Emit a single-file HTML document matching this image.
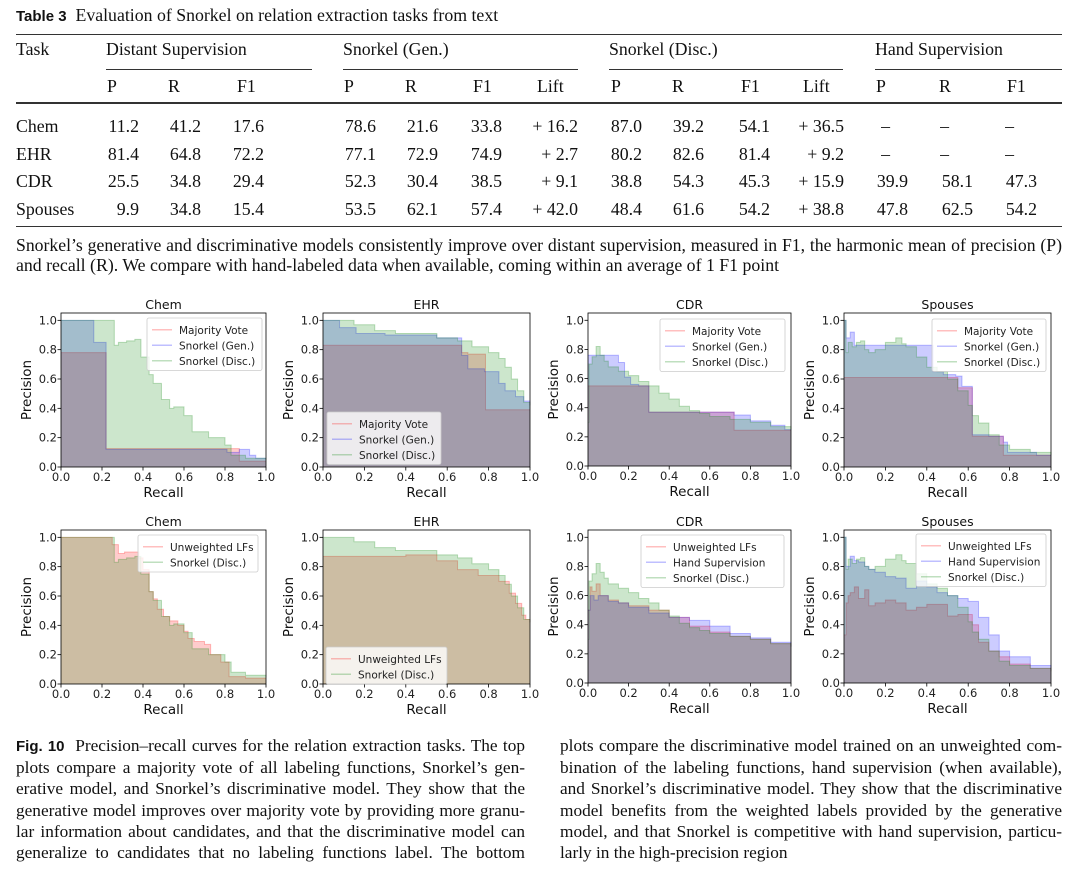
<!DOCTYPE html>
<html><head><meta charset="utf-8">
<style>
body{margin:0;background:#fff;}
#page{position:relative;width:1077px;height:870px;overflow:hidden;background:#fff;color:#111;}
.t{position:absolute;font-family:"Liberation Serif",serif;font-size:17.8px;line-height:20px;white-space:nowrap;}
.r{text-align:right;width:60px;}
.rule{position:absolute;background:#333;height:1px;}
.j{position:absolute;font-family:"Liberation Serif",serif;font-size:17.7px;line-height:20px;text-align:justify;text-align-last:justify;white-space:nowrap;}
.fc .j,.fc .t{font-size:17.3px;}
.sans{font-family:"Liberation Sans",sans-serif;font-weight:bold;font-size:15px;}
svg text{font-family:"DejaVu Sans","Liberation Sans",sans-serif;}
</style></head><body>
<div id="page">
<div class="t" style="left:16px;top:5px"><span class="sans">Table 3</span>&nbsp;&nbsp;Evaluation of Snorkel on relation extraction tasks from text</div>
<div class="rule" style="left:16px;top:34px;width:1046px"></div>
<div class="t" style="left:16px;top:39px">Task</div>
<div class="t" style="left:106px;top:39px">Distant Supervision</div>
<div class="t" style="left:343px;top:39px">Snorkel (Gen.)</div>
<div class="t" style="left:609px;top:39px">Snorkel (Disc.)</div>
<div class="t" style="left:875px;top:39px">Hand Supervision</div>
<div class="rule" style="left:106px;top:69px;width:206px"></div>
<div class="rule" style="left:343px;top:69px;width:235px"></div>
<div class="rule" style="left:609px;top:69px;width:234px"></div>
<div class="rule" style="left:875px;top:69px;width:187px"></div>
<div>
<div class="t" style="left:107px;top:76px">P</div><div class="t" style="left:168px;top:76px">R</div><div class="t" style="left:237px;top:76px">F1</div>
<div class="t" style="left:344px;top:76px">P</div><div class="t" style="left:405px;top:76px">R</div><div class="t" style="left:473px;top:76px">F1</div><div class="t" style="left:537px;top:76px">Lift</div>
<div class="t" style="left:611px;top:76px">P</div><div class="t" style="left:672px;top:76px">R</div><div class="t" style="left:741px;top:76px">F1</div><div class="t" style="left:803px;top:76px">Lift</div>
<div class="t" style="left:876px;top:76px">P</div><div class="t" style="left:939px;top:76px">R</div><div class="t" style="left:1007px;top:76px">F1</div>
</div>
<div class="rule" style="left:16px;top:102px;width:1046px;height:2px"></div>
<div id="rows"></div>
<div class="rule" style="left:16px;top:226px;width:1046px"></div>
<div class="j" style="left:16px;top:235px;width:1046px">Snorkel’s generative and discriminative models consistently improve over distant supervision, measured in F1, the harmonic mean of precision (P)</div>
<div class="t" style="left:16px;top:255px">and recall (R). We compare with hand-labeled data when available, coming within an average of 1 F1 point</div>

<svg id="charts" width="1077" height="870" style="position:absolute;left:0;top:0"></svg>

<div class="fc">
<div class="j" style="left:16px;top:736px;width:509px"><span class="sans">Fig. 10</span>&nbsp;&nbsp;Precision–recall curves for the relation extraction tasks. The top</div>
<div class="j" style="left:16px;top:758px;width:509px">plots compare a majority vote of all labeling functions, Snorkel’s gen-</div>
<div class="j" style="left:16px;top:779px;width:509px">erative model, and Snorkel’s discriminative model. They show that the</div>
<div class="j" style="left:16px;top:801px;width:509px">generative model improves over majority vote by providing more granu-</div>
<div class="j" style="left:16px;top:822px;width:509px">lar information about candidates, and that the discriminative model can</div>
<div class="j" style="left:16px;top:843px;width:509px">generalize to candidates that no labeling functions label. The bottom</div>
<div class="j" style="left:560px;top:736px;width:502px">plots compare the discriminative model trained on an unweighted com-</div>
<div class="j" style="left:560px;top:758px;width:502px">bination of the labeling functions, hand supervision (when available),</div>
<div class="j" style="left:560px;top:779px;width:502px">and Snorkel’s discriminative model. They show that the discriminative</div>
<div class="j" style="left:560px;top:801px;width:502px">model benefits from the weighted labels provided by the generative</div>
<div class="j" style="left:560px;top:822px;width:502px">model, and that Snorkel is competitive with hand supervision, particu-</div>
<div class="t" style="left:560px;top:843px">larly in the high-precision region</div>
</div>
</div>
<script>
// ---- table data ----
const tableTasks = ["Chem","EHR","CDR","Spouses"];
const tableValues = [
 ["11.2","41.2","17.6","78.6","21.6","33.8","+ 16.2","87.0","39.2","54.1","+ 36.5","–","–","–"],
 ["81.4","64.8","72.2","77.1","72.9","74.9","+ 2.7","80.2","82.6","81.4","+ 9.2","–","–","–"],
 ["25.5","34.8","29.4","52.3","30.4","38.5","+ 9.1","38.8","54.3","45.3","+ 15.9","39.9","58.1","47.3"],
 ["9.9","34.8","15.4","53.5","62.1","57.4","+ 42.0","48.4","61.6","54.2","+ 38.8","47.8","62.5","54.2"]
];
const colRight = [139,201,264,376,438,502,578,642,704,770,844,908,973,1037];
const rowCenter = [126,154,181,209];
const rowsEl = document.getElementById('rows');
tableTasks.forEach((task,i)=>{
  const d = document.createElement('div');
  d.className='t'; d.style.left='16px'; d.style.top=(rowCenter[i]-10)+'px'; d.textContent=task;
  
  
  rowsEl.appendChild(d);
  tableValues[i].forEach((v,j)=>{
    const c = document.createElement('div');
    c.className='t r';
    let right = colRight[j];
    if (v==='–') { right = [0,0,0,0,0,0,0,0,0,0,0,890,949,1014][j]; }
    c.style.left=(right-60)+'px'; c.style.top=(rowCenter[i]-10)+'px'; c.textContent=v;
    
    
    rowsEl.appendChild(c);
  });
});

// ---- chart data ----
const ticks = [0,0.2,0.4,0.6,0.8,1.0];
const tickLabels = ["0.0","0.2","0.4","0.6","0.8","1.0"];

const chemMvR = [0,0.22,0.87,1.0];
const chemMvP = [0.78,0.125,0.04,0.04];
const chemGenR = [0,0.16,0.22,0.81,0.87,0.92,0.95,1.0];
const chemGenP = [1.0,0.85,0.12,0.10,0.12,0.08,0.06,0.06];
const chemDiscR = [0,0.26,0.28,0.32,0.36,0.39,0.43,0.45,0.49,0.53,0.55,0.6,0.64,0.72,0.8,0.83,0.9,1.0];
const chemDiscP = [1.0,0.83,0.85,0.86,0.87,0.75,0.63,0.57,0.46,0.40,0.41,0.35,0.24,0.20,0.15,0.08,0.06,0.05];
const chemUnwR = [0,0.25,0.28,0.31,0.38,0.40,0.43,0.45,0.47,0.5,0.53,0.57,0.6,0.62,0.65,0.7,0.73,0.78,0.82,0.9,1.0];
const chemUnwP = [1.0,0.95,0.89,0.9,0.86,0.78,0.63,0.58,0.51,0.46,0.43,0.40,0.36,0.31,0.29,0.27,0.20,0.15,0.05,0.04,0.04];

const ehrMvR = [0,0.67,0.70,0.785,1.0];
const ehrMvP = [0.83,0.78,0.77,0.39,0.39];
const ehrGenR = [0,0.08,0.16,0.30,0.55,0.67,0.70,0.78,0.85,0.88,0.93,0.97,1.0];
const ehrGenP = [1.0,0.95,0.91,0.90,0.88,0.76,0.67,0.65,0.57,0.52,0.48,0.45,0.42];
const ehrDiscR = [0,0.15,0.25,0.35,0.55,0.65,0.72,0.8,0.85,0.88,0.91,0.94,0.97,1.0];
const ehrDiscP = [1.0,0.97,0.93,0.91,0.88,0.86,0.82,0.78,0.74,0.68,0.6,0.52,0.44,0.42];
const ehrUnwR = [0,0.4,0.55,0.65,0.75,0.85,0.9,0.93,0.96,0.98,1.0];
const ehrUnwP = [0.87,0.88,0.84,0.78,0.74,0.70,0.62,0.55,0.47,0.44,0.42];

const cdrMvR = [0,0.3,0.72,1.0];
const cdrMvP = [0.55,0.37,0.245,0.245];
const cdrGenR = [0,0.15,0.18,0.21,0.25,0.3,0.55,0.72,0.8,0.9,0.97,1.0];
const cdrGenP = [0.76,0.71,0.61,0.56,0.55,0.37,0.37,0.35,0.31,0.28,0.25,0.25];
const cdrDiscR = [0,0.005,0.02,0.04,0.06,0.08,0.1,0.15,0.2,0.25,0.3,0.35,0.4,0.45,0.5,0.55,0.6,0.7,0.8,0.9,1.0];
const cdrDiscP = [0.3,0.7,0.75,0.82,0.76,0.72,0.68,0.65,0.62,0.58,0.55,0.5,0.46,0.41,0.38,0.36,0.34,0.32,0.3,0.27,0.25];
const cdrUnwR = [0,0.01,0.02,0.04,0.06,0.1,0.15,0.2,0.3,0.4,0.5,0.6,0.7,0.8,0.9,1.0];
const cdrUnwP = [0.5,0.66,0.63,0.68,0.6,0.57,0.55,0.53,0.5,0.45,0.39,0.35,0.32,0.30,0.27,0.25];
const cdrHandR = [0,0.01,0.03,0.05,0.1,0.15,0.2,0.3,0.4,0.5,0.6,0.7,0.8,0.9,1.0];
const cdrHandP = [0.5,0.6,0.57,0.6,0.56,0.55,0.52,0.48,0.45,0.43,0.39,0.34,0.31,0.28,0.25];

const spMvR = [0,0.55,0.62,0.77,1.0];
const spMvP = [0.61,0.54,0.21,0.08,0.08];
const spGenR = [0,0.01,0.03,0.05,0.43,0.48,0.54,0.57,0.62,0.7,0.77,0.79,0.93,1.0];
const spGenP = [1.0,0.88,0.92,0.83,0.65,0.63,0.62,0.55,0.22,0.21,0.17,0.10,0.08,0.08];
const spDiscR = [0,0.01,0.02,0.04,0.06,0.08,0.1,0.12,0.15,0.2,0.25,0.28,0.3,0.35,0.4,0.45,0.5,0.55,0.6,0.62,0.65,0.7,0.75,0.8,0.9,1.0];
const spDiscP = [1.0,0.78,0.85,0.82,0.85,0.86,0.8,0.78,0.8,0.85,0.88,0.84,0.82,0.75,0.68,0.65,0.6,0.52,0.42,0.35,0.3,0.22,0.15,0.12,0.1,0.08];
const spUnwR = [0,0.01,0.02,0.03,0.05,0.07,0.1,0.12,0.15,0.2,0.25,0.3,0.35,0.4,0.45,0.5,0.55,0.6,0.62,0.65,0.7,0.75,0.8,0.9,1.0];
const spUnwP = [0.33,0.55,0.6,0.62,0.66,0.58,0.64,0.53,0.55,0.57,0.55,0.5,0.52,0.54,0.54,0.46,0.47,0.47,0.4,0.28,0.22,0.18,0.13,0.1,0.08];
const spHandR = [0,0.01,0.03,0.05,0.07,0.1,0.12,0.15,0.2,0.25,0.3,0.35,0.4,0.45,0.5,0.55,0.6,0.65,0.7,0.75,0.8,0.9,1.0];
const spHandP = [1.0,0.8,0.87,0.84,0.83,0.8,0.78,0.76,0.73,0.72,0.65,0.7,0.66,0.62,0.6,0.58,0.56,0.45,0.33,0.22,0.18,0.12,0.09];

const RED='#ff0000', BLUE='#0000ff', GREEN='#008000';
const charts = [
 {id:'chem-top',title:'Chem',left:61,top:313,w:205,h:154,
  series:[{r:chemMvR,p:chemMvP,c:RED,n:'Majority Vote'},{r:chemGenR,p:chemGenP,c:BLUE,n:'Snorkel (Gen.)'},{r:chemDiscR,p:chemDiscP,c:GREEN,n:'Snorkel (Disc.)'}],
  lg:{x:147,y:318,w:115}},
 {id:'ehr-top',title:'EHR',left:323,top:313,w:207,h:154,
  series:[{r:ehrMvR,p:ehrMvP,c:RED,n:'Majority Vote'},{r:ehrGenR,p:ehrGenP,c:BLUE,n:'Snorkel (Gen.)'},{r:ehrDiscR,p:ehrDiscP,c:GREEN,n:'Snorkel (Disc.)'}],
  lg:{x:327,y:412,w:114}},
 {id:'cdr-top',title:'CDR',left:588,top:313,w:203,h:153,
  series:[{r:cdrMvR,p:cdrMvP,c:RED,n:'Majority Vote'},{r:cdrGenR,p:cdrGenP,c:BLUE,n:'Snorkel (Gen.)'},{r:cdrDiscR,p:cdrDiscP,c:GREEN,n:'Snorkel (Disc.)'}],
  lg:{x:660,y:319,w:125}},
 {id:'spouses-top',title:'Spouses',left:844,top:313,w:207,h:154,
  series:[{r:spMvR,p:spMvP,c:RED,n:'Majority Vote'},{r:spGenR,p:spGenP,c:BLUE,n:'Snorkel (Gen.)'},{r:spDiscR,p:spDiscP,c:GREEN,n:'Snorkel (Disc.)'}],
  lg:{x:932,y:319,w:114}},
 {id:'chem-bottom',title:'Chem',left:61,top:530,w:205,h:154,
  series:[{r:chemUnwR,p:chemUnwP,c:RED,n:'Unweighted LFs'},{r:chemDiscR,p:chemDiscP,c:GREEN,n:'Snorkel (Disc.)'}],
  lg:{x:138,y:535,w:120}},
 {id:'ehr-bottom',title:'EHR',left:323,top:530,w:207,h:154,
  series:[{r:ehrUnwR,p:ehrUnwP,c:RED,n:'Unweighted LFs'},{r:ehrDiscR,p:ehrDiscP,c:GREEN,n:'Snorkel (Disc.)'}],
  lg:{x:326,y:647,w:121}},
 {id:'cdr-bottom',title:'CDR',left:588,top:530,w:203,h:153,
  series:[{r:cdrUnwR,p:cdrUnwP,c:RED,n:'Unweighted LFs'},{r:cdrHandR,p:cdrHandP,c:BLUE,n:'Hand Supervision'},{r:cdrDiscR,p:cdrDiscP,c:GREEN,n:'Snorkel (Disc.)'}],
  lg:{x:641,y:535,w:143}},
 {id:'spouses-bottom',title:'Spouses',left:844,top:530,w:207,h:153,
  series:[{r:spUnwR,p:spUnwP,c:RED,n:'Unweighted LFs'},{r:spHandR,p:spHandP,c:BLUE,n:'Hand Supervision'},{r:spDiscR,p:spDiscP,c:GREEN,n:'Snorkel (Disc.)'}],
  lg:{x:916,y:534,w:130}}
];

const NS='http://www.w3.org/2000/svg';
const svg=document.getElementById('charts');
function mk(tag,attrs,parent){const e=document.createElementNS(NS,tag);for(const k in attrs)e.setAttribute(k,attrs[k]);(parent||svg).appendChild(e);return e;}

charts.forEach(ch=>{
  const g=mk('g',{});
  
  
  const xS=v=>ch.left+v*ch.w;
  const yS=v=>ch.top+ch.h-(v/1.05)*ch.h;
  ch.series.forEach(s=>{
    let d='M'+xS(s.r[0])+','+yS(0);
    let line='';
    for(let i=0;i<s.r.length;i++){
      const x=xS(s.r[i]), y=yS(s.p[i]);
      d+=' L'+x+','+y;
      line+=(i===0?'M':' L')+x+','+y;
      if(i<s.r.length-1){const xn=xS(s.r[i+1]);d+=' L'+xn+','+y;line+=' L'+xn+','+y;}
    }
    d+=' L'+xS(s.r[s.r.length-1])+','+yS(0)+' Z';
    const f=mk('path',{d:d,fill:s.c,'fill-opacity':0.2,stroke:'none'},g);
    
    
    const l=mk('path',{d:line,fill:'none',stroke:s.c,'stroke-opacity':0.25,'stroke-width':1},g);
    
    
  });
  const fr=mk('rect',{x:ch.left,y:ch.top,width:ch.w,height:ch.h,fill:'none',stroke:'#000','stroke-width':0.8},g);
  
  
  ticks.forEach((t,i)=>{
    mk('line',{x1:xS(t),x2:xS(t),y1:ch.top+ch.h,y2:ch.top+ch.h+3.5,stroke:'#000','stroke-width':0.8},g);
    const xt=mk('text',{x:xS(t),y:ch.top+ch.h+14,'text-anchor':'middle','font-size':11.5,fill:'#222'},g);
    xt.textContent=tickLabels[i];
    
    
    mk('line',{x1:ch.left-3.5,x2:ch.left,y1:yS(t),y2:yS(t),stroke:'#000','stroke-width':0.8},g);
    const yt=mk('text',{x:ch.left-4,y:yS(t)+4,'text-anchor':'end','font-size':11.5,fill:'#222'},g);
    yt.textContent=tickLabels[i];
    
    
  });
  const tt=mk('text',{x:ch.left+ch.w/2,y:ch.top-4,'text-anchor':'middle','font-size':12.5,fill:'#111'},g);
  tt.textContent=ch.title;
  
  
  const xl=mk('text',{x:ch.left+ch.w/2,y:ch.top+ch.h+30,'text-anchor':'middle','font-size':13.5,fill:'#111'},g);
  xl.textContent='Recall';
  
  
  const cy=ch.top+ch.h/2, cx=ch.left-30;
  const yl=mk('text',{x:cx,y:cy,'text-anchor':'middle','font-size':13.5,fill:'#111',transform:'rotate(-90 '+cx+' '+cy+')'},g);
  yl.textContent='Precision';
  
  
  const n=ch.series.length, rh=15.5, lh=n*rh+6;
  const lg=mk('g',{},g);
  
  
  mk('rect',{x:ch.lg.x,y:ch.lg.y,width:ch.lg.w,height:lh,rx:2,fill:'#fff','fill-opacity':0.8,stroke:'#ccc','stroke-width':0.8},lg);
  ch.series.forEach((s,i)=>{
    const yy=ch.lg.y+4+rh*i+rh/2;
    const sw=mk('line',{x1:ch.lg.x+5,x2:ch.lg.x+25,y1:yy,y2:yy,stroke:s.c,'stroke-opacity':0.25,'stroke-width':1.5},lg);
    
    
    const tx=mk('text',{x:ch.lg.x+32,y:yy+4,'font-size':10.5,fill:'#222'},lg);
    tx.textContent=s.n;
    
    
  });
});
</script>
</body></html>
